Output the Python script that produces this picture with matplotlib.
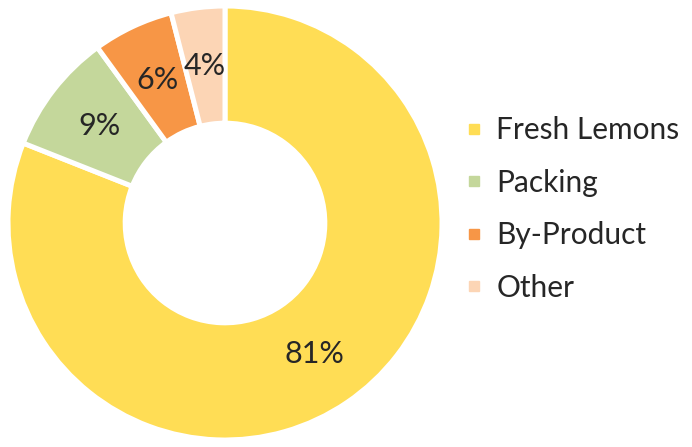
import matplotlib
matplotlib.use("Agg")
import matplotlib.pyplot as plt
from matplotlib.lines import Line2D

categories = ["Fresh Lemons", "Packing", "By-Product", "Other"]
values = [81, 9, 6, 4]
colors = ["#FFDD55", "#C4D79B", "#F79646", "#FCD5B5"]

plt.rcParams['font.family'] = ['Lato', 'DejaVu Sans']
W, H = 692, 447
fig = plt.figure(figsize=(W / 100, H / 100), dpi=100)
ax = fig.add_axes([8 / W, (H - 440) / H, 434 / W, 434 / H])

wedges, texts = ax.pie(values, colors=colors, startangle=90, counterclock=False,
                       radius=1.0,
                       wedgeprops=dict(width=0.54, edgecolor="white", linewidth=3.6),
                       labels=[f"{v}%" for v in values], labeldistance=0.73,
                       textprops=dict(fontsize=22, color="#262626", ha="center", va="center"))
ax.set_xlim(-1.0, 1.0)
ax.set_ylim(-1.0, 1.0)
ax.set_aspect("equal")

handles = [Line2D([], [], marker="s", linestyle="none", markersize=7.5,
                  markerfacecolor=c, markeredgecolor=c) for c in colors]
fig.legend(handles, categories, loc="center left",
           bbox_to_anchor=(465 / W, 1 - 209 / H), frameon=False,
           borderaxespad=0, borderpad=0,
           fontsize=21.5, labelcolor="#262626", handlelength=0.6,
           handletextpad=0.45, labelspacing=0.82)

fig.savefig("out.png", dpi=100)
